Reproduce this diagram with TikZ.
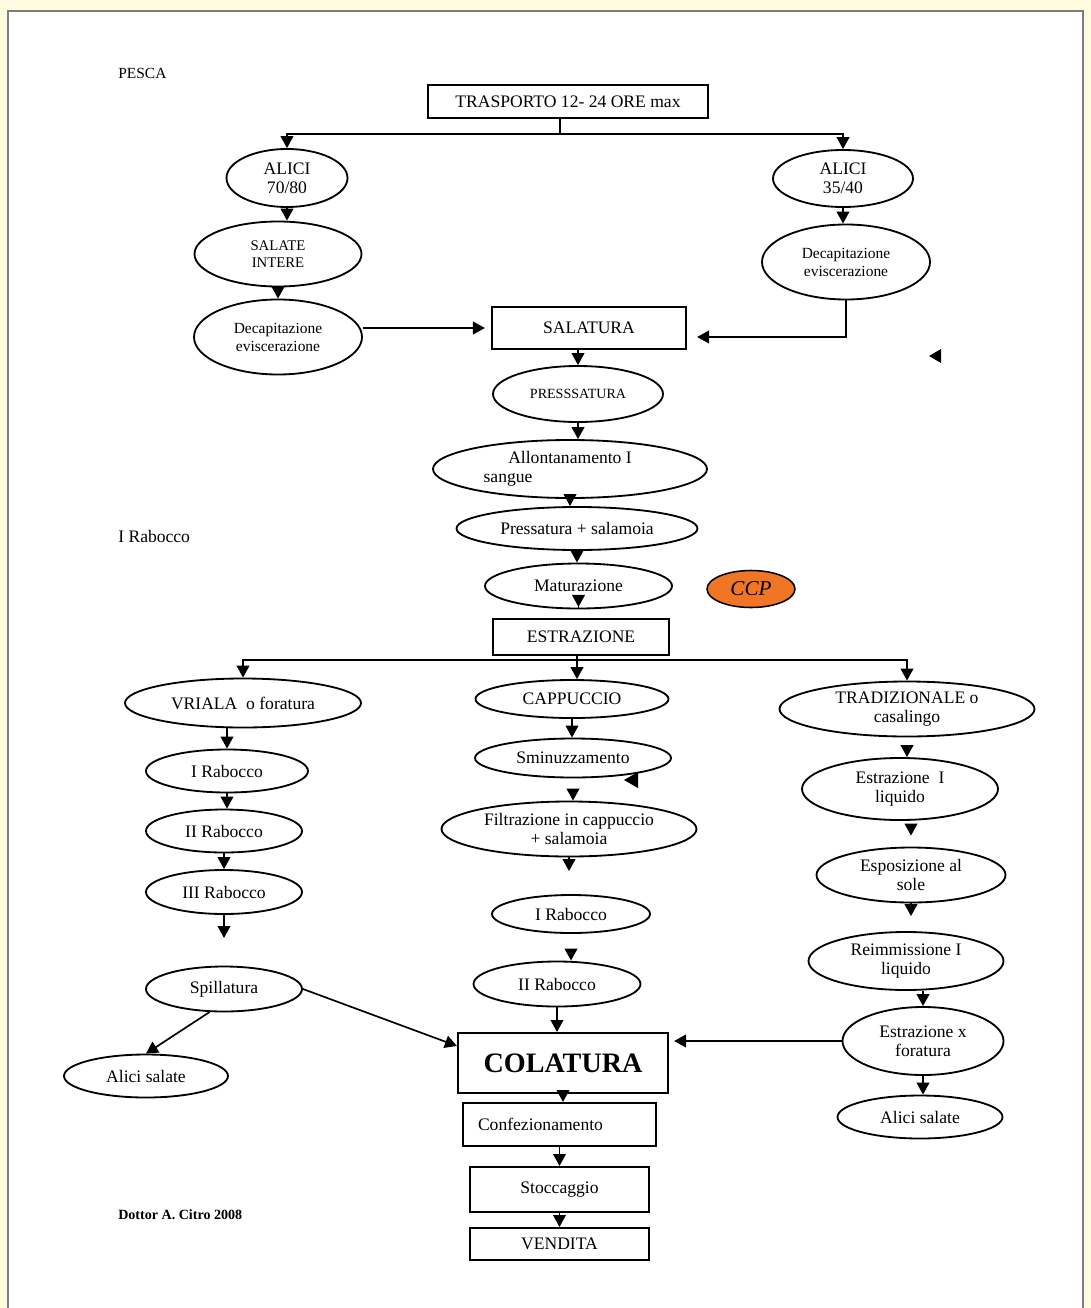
\documentclass[tikz,border=0pt]{standalone}
\usepackage{fontspec}
\setmainfont{Liberation Serif}
\usetikzlibrary{shapes.geometric,arrows.meta}

\definecolor{cream}{RGB}{255,251,222}
\definecolor{framegray}{RGB}{125,125,125}
\definecolor{ccporange}{RGB}{240,118,38}
\newdimen\pxu \pxu=0.025cm

\tikzset{
  oval/.style={ellipse, draw, line width=1.3pt, inner sep=0pt, align=center, font=\fontsize{12.5}{13.5}\selectfont},
  stepbox/.style={rectangle, draw, line width=1.5pt, inner sep=0pt, align=center, font=\fontsize{12.5}{13.5}\selectfont},
  smalltext/.style={font=\fontsize{10.5}{12}\selectfont},
  midtext/.style={font=\fontsize{11}{12.8}\selectfont},
  flow/.style={->, line width=1.2pt},
  sidelabel/.style={anchor=west, inner sep=0pt},
}

\begin{document}
\begin{tikzpicture}[x=0.025cm, y=-0.025cm, >={Triangle[length=8.5pt,width=9pt]}]
	\useasboundingbox (0,0) rectangle (1091,1308);
	% page
	\fill[cream] (0,0) rectangle (1091,1308);
	\fill[white] (8,11) rectangle (1083,1308);
	\draw[framegray, line width=1pt] (8,1308) -- (8,11) -- (1083,11) -- (1083,1308);

	% side labels
	\node[sidelabel, font=\fontsize{11}{12}\selectfont] (pesca) at (118,73) {PESCA};
	\node[sidelabel, font=\fontsize{12.5}{13}\selectfont] (raboccolab) at (118,536) {I Rabocco};
	\node[sidelabel, font=\fontsize{10}{11}\selectfont\bfseries] (firma) at (118,1215) {Dottor A. Citro 2008};

	% top part
	\node[stepbox, minimum width=280\pxu, minimum height=33\pxu] (trasporto) at (568,101.5) {TRASPORTO 12- 24 ORE max};
	\node[oval, minimum width=121\pxu, minimum height=58\pxu] (alici1) at (287,178) {ALICI\\70/80};
	\node[oval, smalltext, minimum width=167\pxu, minimum height=65\pxu] (salate) at (278,254) {SALATE\\INTERE};
	\node[oval, midtext, minimum width=168\pxu, minimum height=75\pxu] (decap1) at (278,337) {Decapitazione\\eviscerazione};
	\node[oval, minimum width=140\pxu, minimum height=57\pxu] (alici2) at (843,178.5) {ALICI\\35/40};
	\node[oval, midtext, minimum width=168\pxu, minimum height=75\pxu] (decap2) at (846,262) {Decapitazione\\eviscerazione};
	\node[stepbox, minimum width=194\pxu, minimum height=42\pxu] (salatura) at (589,328) {SALATURA};

	% central chain
	\node[oval, font=\fontsize{10}{11}\selectfont, minimum width=170\pxu, minimum height=56\pxu] (pressatura) at (578,394) {PRESSSATURA};
	\node[oval, align=left, minimum width=274\pxu, minimum height=58\pxu] (allont) at (570,469) {\hspace*{1.4em}Allontanamento I\hspace*{1.4em}\\sangue};
	\node[oval, minimum width=241\pxu, minimum height=43\pxu] (pressal) at (577,528.5) {Pressatura + salamoia};
	\node[oval, minimum width=187\pxu, minimum height=45\pxu] (matur) at (578.5,586) {Maturazione};
	\node[ellipse, draw, line width=1.1pt, fill=ccporange, inner sep=0pt, minimum width=88\pxu, minimum height=37\pxu, font=\fontsize{15}{16}\selectfont\itshape] (ccp) at (751,589) {CCP};
	\node[stepbox, minimum width=176\pxu, minimum height=36\pxu] (estrazione) at (581,637) {ESTRAZIONE};

	% left branch
	\node[oval, minimum width=236\pxu, minimum height=49\pxu] (vriala) at (243,703) {VRIALA~ o foratura};
	\node[oval, minimum width=162\pxu, minimum height=43\pxu] (rab1a) at (227,771) {I Rabocco};
	\node[oval, minimum width=156\pxu, minimum height=43\pxu] (rab2a) at (224,831) {II Rabocco};
	\node[oval, minimum width=156\pxu, minimum height=44\pxu] (rab3a) at (224,892) {III Rabocco};
	\node[oval, minimum width=156\pxu, minimum height=45\pxu] (spill) at (224,989) {Spillatura};
	\node[oval, minimum width=164\pxu, minimum height=43\pxu] (alicisal1) at (146,1076) {Alici salate};

	% middle branch
	\node[oval, minimum width=193\pxu, minimum height=38\pxu] (cappuccio) at (572,699) {CAPPUCCIO};
	\node[oval, minimum width=196\pxu, minimum height=39\pxu] (sminuz) at (573,758) {Sminuzzamento};
	\node[oval, minimum width=255\pxu, minimum height=55\pxu] (filtr) at (569,829) {Filtrazione in cappuccio\\+ salamoia};
	\node[oval, minimum width=158\pxu, minimum height=38\pxu] (rab1b) at (571,914) {I Rabocco};
	\node[oval, minimum width=167\pxu, minimum height=45\pxu] (rab2b) at (557,984) {II Rabocco};

	% right branch
	\node[oval, minimum width=255\pxu, minimum height=55\pxu] (trad) at (907,709) {TRADIZIONALE o\\casalingo};
	\node[oval, minimum width=196\pxu, minimum height=62\pxu] (estr1) at (900,789) {Estrazione~ I\\liquido};
	\node[oval, minimum width=189\pxu, minimum height=55\pxu] (espos) at (911,875) {Esposizione al\\sole};
	\node[oval, minimum width=195\pxu, minimum height=58\pxu] (reimm) at (906,961) {Reimmissione I\\liquido};
	\node[oval, minimum width=161\pxu, minimum height=68\pxu] (estrx) at (923,1041) {Estrazione x\\foratura};
	\node[oval, minimum width=165\pxu, minimum height=43\pxu] (alicisal2) at (920,1117) {Alici salate};

	% bottom boxes
	\node[stepbox, minimum width=210\pxu, minimum height=60\pxu, font=\fontsize{20}{22}\selectfont\bfseries] (colatura) at (563,1063) {COLATURA};
	\node[stepbox, minimum width=193\pxu, minimum height=43\pxu] (conf) at (559.5,1124.5) {Confezionamento\hspace*{0.95cm}};
	\node[stepbox, minimum width=179\pxu, minimum height=45\pxu] (stocc) at (559.5,1189.5) {Stoccaggio};
	\node[stepbox, minimum width=179\pxu, minimum height=32\pxu] (vendita) at (559.5,1244) {VENDITA};

	% splits
	\coordinate (split1) at (560,134);
	\draw[line width=1.2pt] (split1 |- trasporto.south) -- (split1);
	\draw[flow, <->] (alici1.north) |- (split1) -| (alici2.north);
	\coordinate (split2) at (577,660);
	\draw[flow, <->] (vriala.north) |- (split2) -| (trad.north);
	\draw[flow] (estrazione.south -| split2) -- (split2 |- cappuccio.north);

	% straight steps
	\foreach \a/\b in {alici1/salate, salate/decap1, alici2/decap2, pressatura/allont, allont/pressal, pressal/matur,
		rab1a/rab2a, rab2a/rab3a, cappuccio/sminuz, estrx/alicisal2, rab2b/colatura, colatura/conf, conf/stocc, stocc/vendita}
		\draw[flow] (\a.south) -- (\a.south |- \b.north);
	\draw[flow] (salatura.south -| pressatura.north) -- (pressatura.north);
	\draw[flow, shorten >=11\pxu] (matur.south) -- (matur.south |- estrazione.north);
	\draw[flow] (vriala.south -| rab1a.north) -- (rab1a.north);
	\coordinate (rab3end) at (224,938);
	\draw[flow] (rab3a.south) -- (rab3end);
	\draw[flow, shorten <=12\pxu] (sminuz.south) -- (sminuz.south |- filtr.north);
	\draw[flow, shorten >=23\pxu] (filtr.south) -- (filtr.south |- rab1b.north);
	\draw[flow, shorten <=15\pxu] (rab1b.south) -- (rab1b.south |- rab2b.north);
	\draw[flow, shorten <=10\pxu] (trad.south) -- (trad.south |- estr1.north);
	\draw[flow, shorten <=5\pxu, shorten >=11\pxu] (estr1.south -| espos.north) -- (espos.north);
	\draw[flow, shorten >=15\pxu] (espos.south) -- (espos.south |- reimm.north);
	\draw[flow] (reimm.south -| estrx.north) -- (estrx.north);

	% side connectors
	\draw[flow] (decap1.east |- salatura.west) -- ([xshift=-6\pxu]salatura.west);
	\draw[flow] (decap2.south) |- ([xshift=10\pxu,yshift=-9\pxu]salatura.east);
	\draw[flow] (spill.238) -- (alicisal1.north);
	\draw[flow] (spill.east) -- ([yshift=-14\pxu]colatura.north west);
	\draw[flow, shorten >=5\pxu] (estrx.west) -- (estrx.west -| colatura.east);

	% loose arrowheads
	\fill (929,356) -- (941,349) -- (941,363) -- cycle;
	\fill (624,780) -- (638,772) -- (638,788) -- cycle;
\end{tikzpicture}
\end{document}
